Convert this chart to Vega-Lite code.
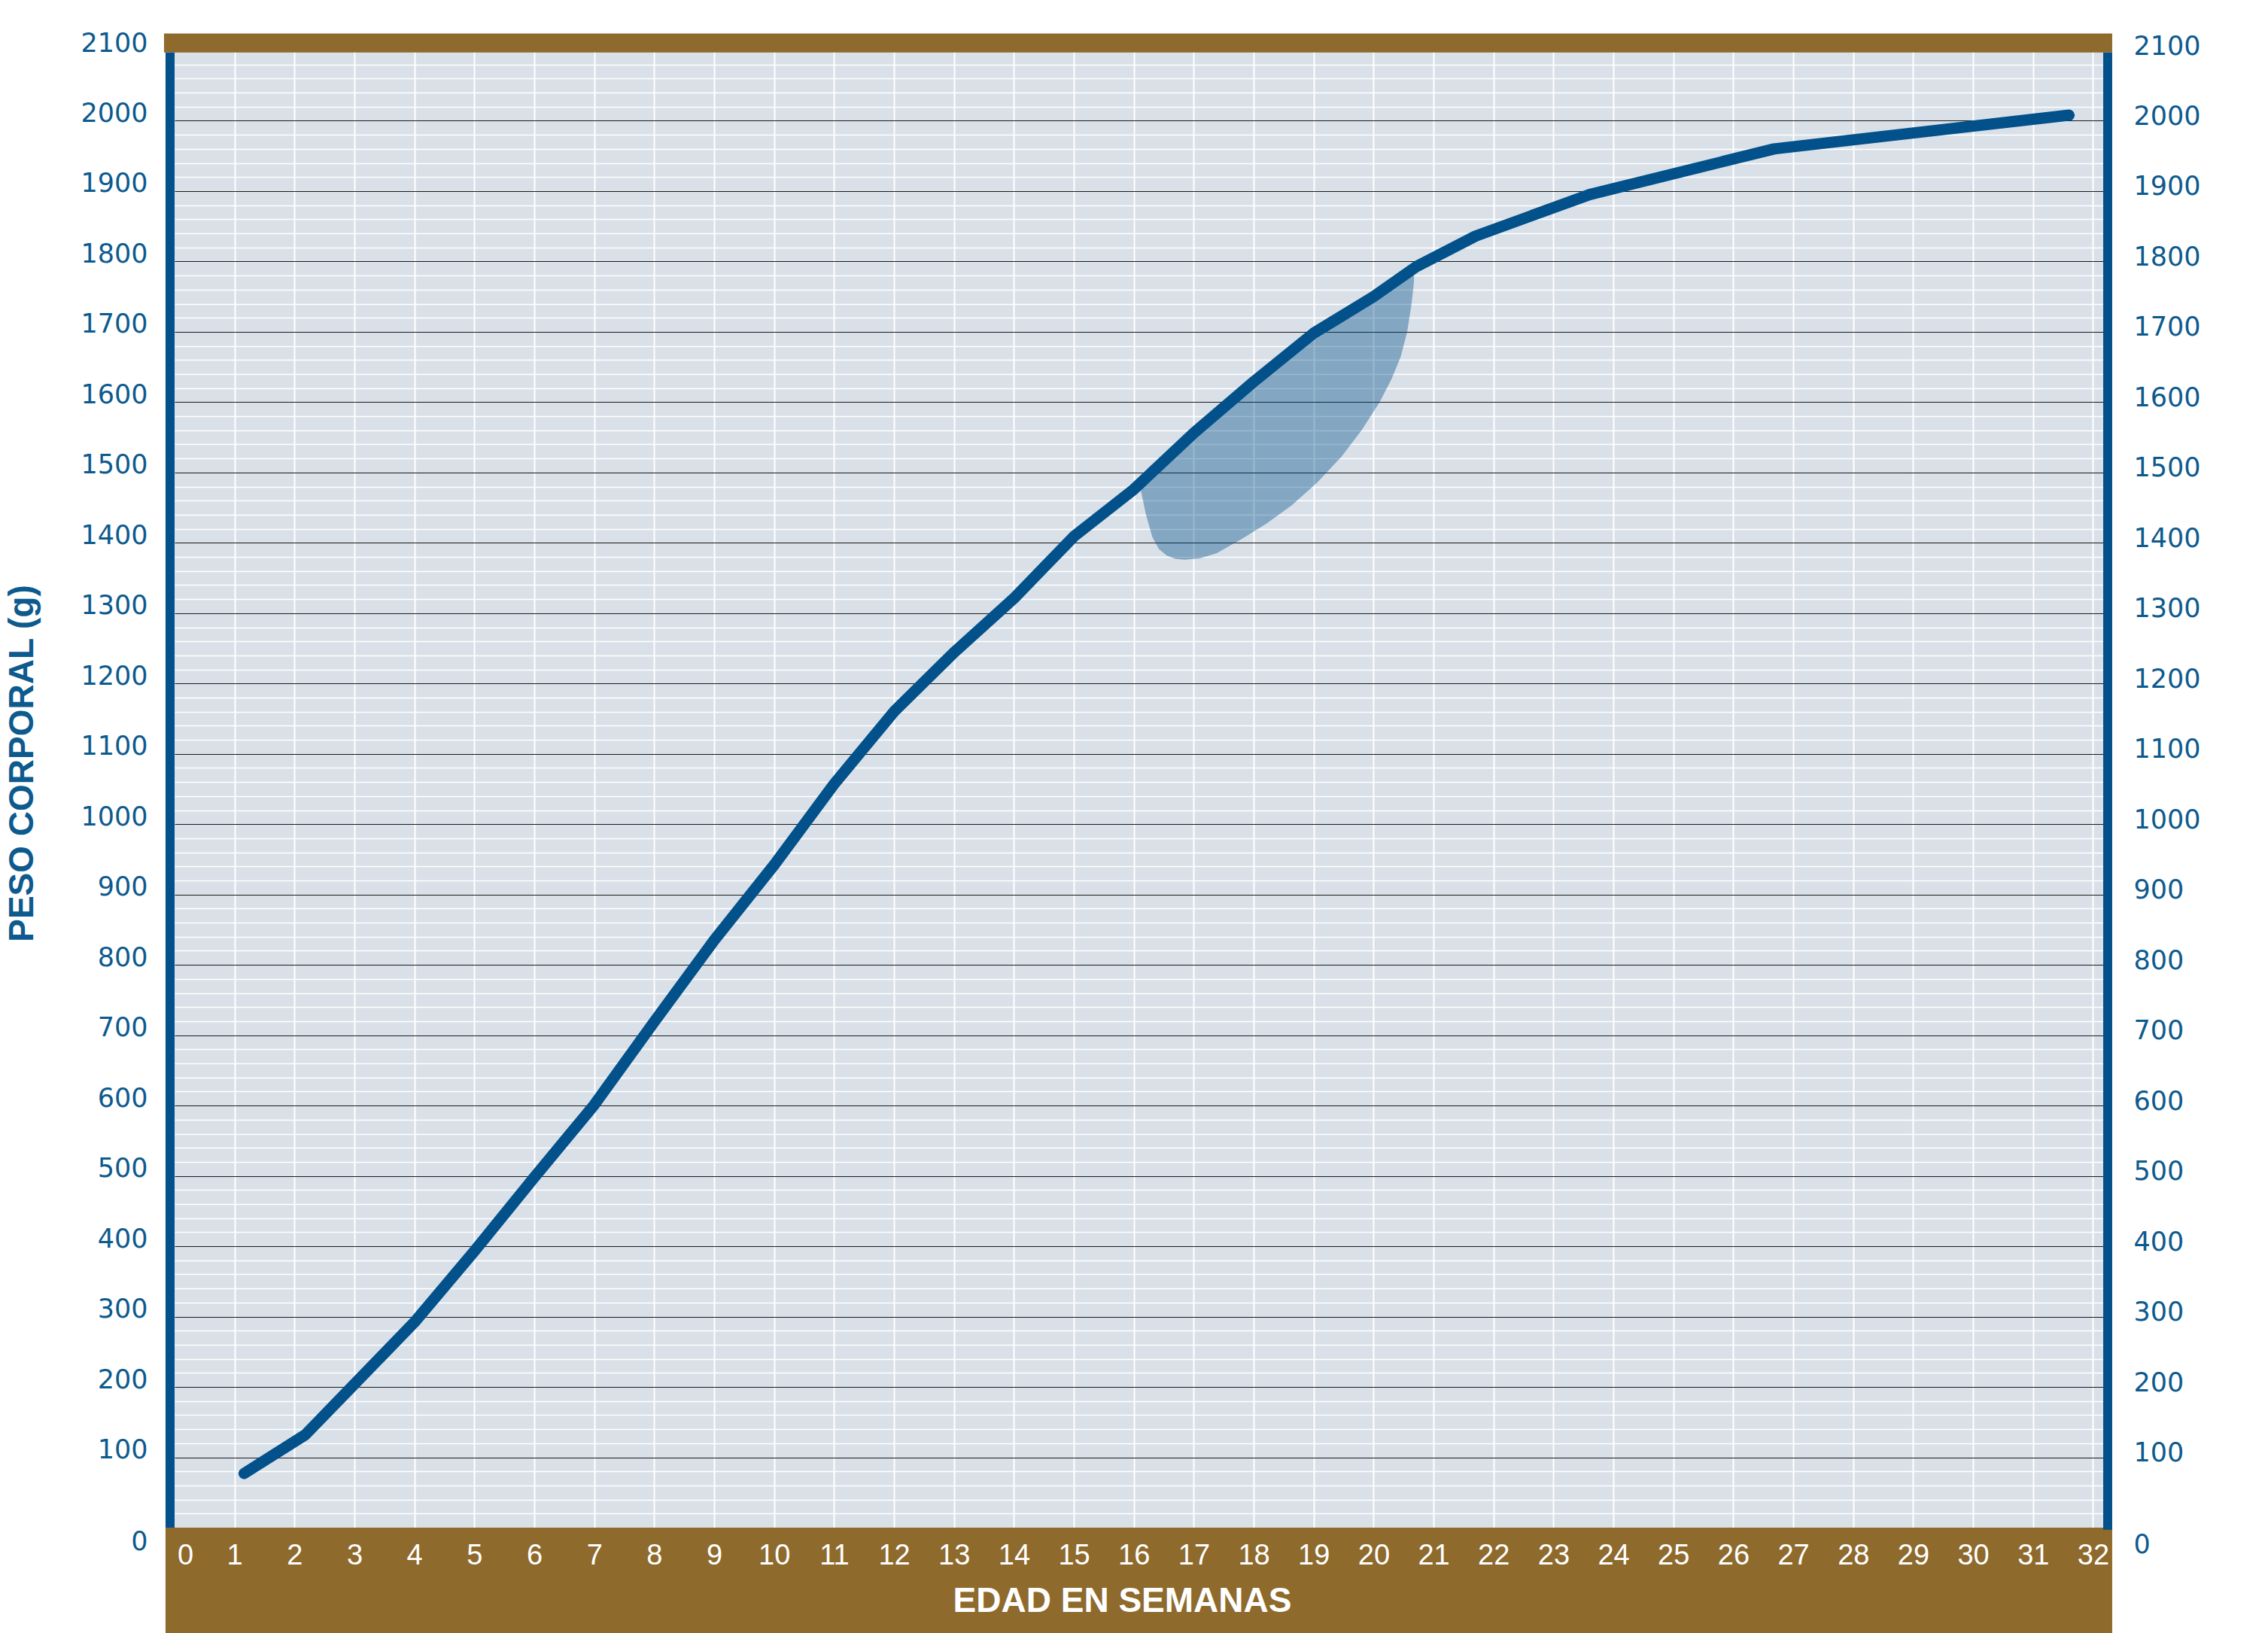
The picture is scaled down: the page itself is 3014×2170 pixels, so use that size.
{
  "$schema": "https://vega.github.io/schema/vega-lite/v6.json",
  "width": 2563,
  "height": 1963,
  "autosize": "none",
  "padding": {"left": 232, "top": 67, "right": 219, "bottom": 140},
  "background": "white",
  "view": {"fill": "#d9e0e8", "stroke": null},
  "datasets": {
    "peso": [
      {"semana": 1.16, "peso": 77}, {"semana": 2.18, "peso": 132}, {"semana": 3, "peso": 204},
      {"semana": 4, "peso": 292}, {"semana": 5, "peso": 393}, {"semana": 6, "peso": 498},
      {"semana": 7, "peso": 601}, {"semana": 8, "peso": 719}, {"semana": 9, "peso": 835},
      {"semana": 10, "peso": 942}, {"semana": 11, "peso": 1057}, {"semana": 12, "peso": 1160},
      {"semana": 13, "peso": 1244}, {"semana": 14, "peso": 1321}, {"semana": 15, "peso": 1409},
      {"semana": 16, "peso": 1476}, {"semana": 17, "peso": 1556}, {"semana": 18, "peso": 1629},
      {"semana": 19, "peso": 1698}, {"semana": 20, "peso": 1750}, {"semana": 20.72, "peso": 1793},
      {"semana": 21.7, "peso": 1836}, {"semana": 23.6, "peso": 1895}, {"semana": 26.68, "peso": 1960},
      {"semana": 31.6, "peso": 2008}
    ],
    "banda": [
      {"semana": 16.04, "sup": 1480, "inf": 1490},
      {"semana": 16.12, "sup": 1486, "inf": 1474},
      {"semana": 16.2, "sup": 1492, "inf": 1441},
      {"semana": 16.31, "sup": 1501, "inf": 1408},
      {"semana": 16.42, "sup": 1510, "inf": 1391},
      {"semana": 16.55, "sup": 1520, "inf": 1382},
      {"semana": 16.7, "sup": 1532, "inf": 1377},
      {"semana": 16.85, "sup": 1544, "inf": 1376},
      {"semana": 17.1, "sup": 1563, "inf": 1378},
      {"semana": 17.38, "sup": 1584, "inf": 1385},
      {"semana": 17.79, "sup": 1614, "inf": 1405},
      {"semana": 18.21, "sup": 1643, "inf": 1427},
      {"semana": 18.63, "sup": 1672, "inf": 1453},
      {"semana": 19.05, "sup": 1701, "inf": 1485},
      {"semana": 19.46, "sup": 1722, "inf": 1522},
      {"semana": 19.8, "sup": 1740, "inf": 1560},
      {"semana": 20.1, "sup": 1756, "inf": 1600},
      {"semana": 20.3, "sup": 1768, "inf": 1633},
      {"semana": 20.45, "sup": 1777, "inf": 1664},
      {"semana": 20.56, "sup": 1783, "inf": 1700},
      {"semana": 20.63, "sup": 1787, "inf": 1738},
      {"semana": 20.67, "sup": 1790, "inf": 1768},
      {"semana": 20.68, "sup": 1791, "inf": 1789}
    ]
  },
  "layer": [
    {
      "data": {"values": [{}]},
      "mark": {"type": "rect", "color": "#8e6a2d"},
      "encoding": {
        "x": {"datum": -0.176, "type": "quantitative", "scale": {"domain": [0, 32.17], "nice": false, "zero": false}, "axis": null},
        "x2": {"datum": 32.32},
        "y": {"datum": 2097, "type": "quantitative", "scale": {"domain": [0, 2100], "nice": false}, "axis": null},
        "y2": {"datum": 2124}
      }
    },
    {
      "data": {"values": [{}]},
      "mark": {"type": "rect", "color": "#8e6a2d"},
      "encoding": {
        "x": {"datum": -0.151, "type": "quantitative", "scale": {"domain": [0, 32.17], "nice": false, "zero": false}, "axis": null},
        "x2": {"datum": 32.32},
        "y": {"datum": 0, "type": "quantitative", "scale": {"domain": [0, 2100], "nice": false}, "axis": null},
        "y2": {"datum": -150}
      }
    },
    {
      "data": {"values": [{}]},
      "mark": {"type": "rect", "color": "#02518a"},
      "encoding": {
        "x": {"datum": -0.151, "type": "quantitative", "scale": {"domain": [0, 32.17], "nice": false, "zero": false}, "axis": null},
        "x2": {"datum": 0},
        "y": {"datum": 0, "type": "quantitative", "scale": {"domain": [0, 2100], "nice": false}, "axis": null},
        "y2": {"datum": 2097}
      }
    },
    {
      "data": {"values": [{}]},
      "mark": {"type": "rect", "color": "#02518a"},
      "encoding": {
        "x": {"datum": 32.17, "type": "quantitative", "scale": {"domain": [0, 32.17], "nice": false, "zero": false}, "axis": null},
        "x2": {"datum": 32.32},
        "y": {"datum": -3, "type": "quantitative", "scale": {"domain": [0, 2100], "nice": false}, "axis": null},
        "y2": {"datum": 2097}
      }
    },
    {
      "data": {"name": "banda"},
      "mark": {"type": "area", "color": "#02518a", "opacity": 0.4, "interpolate": "linear"},
      "encoding": {
        "x": {
          "field": "semana", "type": "quantitative",
          "scale": {"domain": [0, 32.17], "nice": false, "zero": false},
          "axis": {
            "orient": "top", "values": [1,2,3,4,5,6,7,8,9,10,11,12,13,14,15,16,17,18,19,20,21,22,23,24,25,26,27,28,29,30,31,32],
            "grid": true, "gridColor": "#ffffff", "gridWidth": 2, "gridOpacity": 1,
            "labels": false, "ticks": false, "domain": false, "title": null, "zindex": 0
          }
        },
        "y": {
          "field": "sup", "type": "quantitative",
          "scale": {"domain": [0, 2100], "nice": false},
          "axis": {
            "orient": "right", "values": [0,100,200,300,400,500,600,700,800,900,1000,1100,1200,1300,1400,1500,1600,1700,1800,1900,2000,2100],
            "format": "d", "grid": false, "ticks": false, "tickSize": 0, "domain": false, "title": null,
            "labelFont": "DejaVu Sans", "labelFontSize": 35, "labelColor": "#0d5a8e",
            "labelAlign": "left", "labelBaseline": "middle", "labelPadding": 40,
            "labelOffset": {"condition": {"test": "datum.value === 0", "value": 22}, "value": -6}
          }
        },
        "y2": {"field": "inf"}
      }
    },
    {
      "data": {"name": "peso"},
      "mark": {"type": "line", "color": "#02518a", "strokeWidth": 15, "strokeCap": "round", "strokeJoin": "round"},
      "encoding": {
        "x": {
          "field": "semana", "type": "quantitative",
          "scale": {"domain": [0, 32.17], "nice": false, "zero": false},
          "axis": {
            "orient": "bottom", "values": [0,1,2,3,4,5,6,7,8,9,10,11,12,13,14,15,16,17,18,19,20,21,22,23,24,25,26,27,28,29,30,31,32],
            "format": "d", "grid": false, "ticks": false, "tickSize": 0, "domain": false, "zindex": 1,
            "labelFont": "Liberation Sans Narrow, Liberation Sans, Arial", "labelFontSize": 38, "labelColor": "#ffffff",
            "labelBaseline": "middle", "labelAlign": "center", "labelPadding": 37, "labelFlush": false, "labelOverlap": false,
            "labelOffset": {"condition": {"test": "datum.value === 0", "value": 14}, "value": 0},
            "title": "EDAD EN SEMANAS", "titleFont": "Liberation Sans", "titleFontWeight": "bold", "titleFontSize": 46,
            "titleColor": "#ffffff", "titleX": 1259, "titleY": 97, "titleAlign": "center", "titleBaseline": "middle"
          }
        },
        "y": {
          "field": "peso", "type": "quantitative",
          "scale": {"domain": [0, 2100], "nice": false},
          "axis": {
            "orient": "left",
            "values": [0,20,40,60,80,100,120,140,160,180,200,220,240,260,280,300,320,340,360,380,400,420,440,460,480,500,520,540,560,580,600,620,640,660,680,700,720,740,760,780,800,820,840,860,880,900,920,940,960,980,1000,1020,1040,1060,1080,1100,1120,1140,1160,1180,1200,1220,1240,1260,1280,1300,1320,1340,1360,1380,1400,1420,1440,1460,1480,1500,1520,1540,1560,1580,1600,1620,1640,1660,1680,1700,1720,1740,1760,1780,1800,1820,1840,1860,1880,1900,1920,1940,1960,1980,2000,2020,2040,2060,2080,2100],
            "format": "d", "labelExpr": "datum.value % 100 === 0 ? datum.label : ''",
            "grid": true,
            "gridColor": {"condition": {"test": "datum.value % 100 === 0", "value": "#1a1a1a"}, "value": "#ffffff"},
            "gridWidth": {"condition": {"test": "datum.value % 100 === 0", "value": 1}, "value": 1.3},
            "gridOpacity": 1,
            "ticks": false, "tickSize": 0, "domain": false, "labelOverlap": false, "labelFlush": false,
            "labelFont": "DejaVu Sans", "labelFontSize": 35, "labelColor": "#0d5a8e",
            "labelAlign": "right", "labelBaseline": "middle", "labelPadding": 36,
            "labelOffset": {"condition": {"test": "datum.value === 0", "value": 18}, "value": -10},
            "title": "PESO CORPORAL (g)", "titleFont": "Liberation Sans", "titleFontWeight": "bold", "titleFontSize": 46,
            "titleColor": "#0d5a8e", "titleAngle": 270, "titleX": -203, "titleY": 947, "titleAlign": "center", "titleBaseline": "middle"
          }
        }
      }
    }
  ],
  "resolve": {"axis": {"x": "independent", "y": "independent"}}
}
